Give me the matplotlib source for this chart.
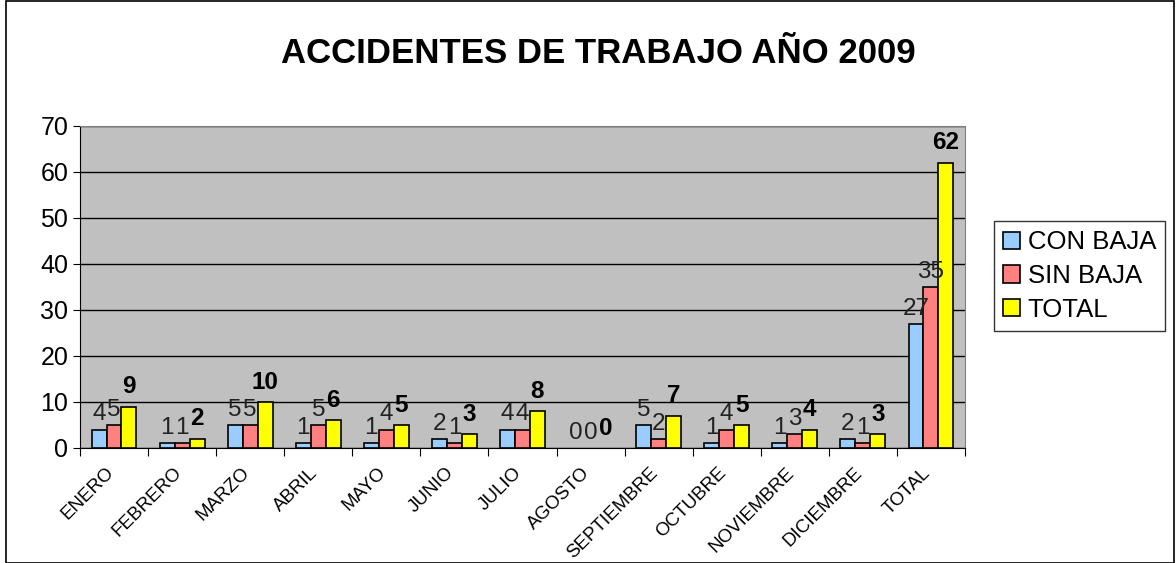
import matplotlib
matplotlib.use("Agg")
import matplotlib.pyplot as plt
import matplotlib.transforms as mtransforms
import numpy as np
from matplotlib.patches import Rectangle

categories = ["ENERO", "FEBRERO", "MARZO", "ABRIL", "MAYO", "JUNIO", "JULIO",
              "AGOSTO", "SEPTIEMBRE", "OCTUBRE", "NOVIEMBRE", "DICIEMBRE", "TOTAL"]
con_baja = [4, 1, 5, 1, 1, 2, 4, 0, 5, 1, 1, 2, 27]
sin_baja = [5, 1, 5, 5, 4, 1, 4, 0, 2, 4, 3, 1, 35]
total = [9, 2, 10, 6, 5, 3, 8, 0, 7, 5, 4, 3, 62]
series_names = ["CON BAJA", "SIN BAJA", "TOTAL"]
colors = ["#99CCFF", "#FF8080", "#FFFF00"]

plt.rcParams['font.family'] = ['Liberation Sans', 'DejaVu Sans']

fig = plt.figure(figsize=(11.76, 5.63), dpi=100)
ax = fig.add_axes([0.068, 0.2043, 0.7526, 0.5719])
ax.set_facecolor("#C0C0C0")

x = np.arange(len(categories))
w = 0.22
data = [con_baja, sin_baja, total]
for i, (vals, c, name) in enumerate(zip(data, colors, series_names)):
    pos = x + (i - 1) * w
    bars = ax.bar(pos, vals, width=w, color=c, edgecolor="black", linewidth=1.2,
                  label=name, zorder=3)
    for b, v in zip(bars, vals):
        if v == 0:
            b.set_linewidth(0)
    for px, v in zip(pos, vals):
        ax.annotate(str(v), (px, v), xytext=(0, 3 if i < 2 else 6),
                    textcoords="offset points", ha="center", va="bottom",
                    fontsize=17.5, fontweight="bold" if i == 2 else "normal",
                    color="black" if i == 2 else "#222222", zorder=4)

ax.set_xlim(-0.5, len(categories) - 0.5)
ax.set_ylim(0, 70)
ax.set_yticks(range(0, 71, 10))
ax.yaxis.grid(True, color="black", linewidth=1)
ax.set_axisbelow(True)
ax.tick_params(axis="y", labelsize=18, length=5, direction="out")
ax.set_xticks(np.arange(-0.5, len(categories), 1), minor=False)
ax.set_xticklabels([])
ax.set_xticks(x, minor=True)
ax.set_xticklabels(categories, minor=True, rotation=45, ha="right",
                   rotation_mode="anchor", fontsize=13.5)
ax.tick_params(axis="x", which="major", length=6, direction="out")
ax.tick_params(axis="x", which="minor", length=0, pad=8)
offset = mtransforms.ScaledTranslation(-9 / 100, -5 / 100, fig.dpi_scale_trans)
for lbl in ax.get_xticklabels(minor=True):
    lbl.set_transform(lbl.get_transform() + offset)
for s in ["top", "right"]:
    ax.spines[s].set_color("#808080")
for s in ["left", "bottom"]:
    ax.spines[s].set_color("black")

fig.text(0.509, 0.905, "ACCIDENTES DE TRABAJO AÑO 2009", ha="center", va="center",
         fontsize=25, fontweight="bold")

leg = ax.legend(loc="center left", bbox_to_anchor=(1.033, 0.534), fontsize=18.5,
                frameon=True, fancybox=False, edgecolor="black",
                handlelength=0.65, handleheight=0.65, handletextpad=0.3,
                borderpad=0.35, labelspacing=0.38, borderaxespad=0)
leg.get_frame().set_linewidth(1)

fig.patches.append(Rectangle((0.005, 0.0), 0.993, 0.998, transform=fig.transFigure,
                             fill=False, edgecolor="black", linewidth=1.2))

fig.savefig("out.png", dpi=100)
